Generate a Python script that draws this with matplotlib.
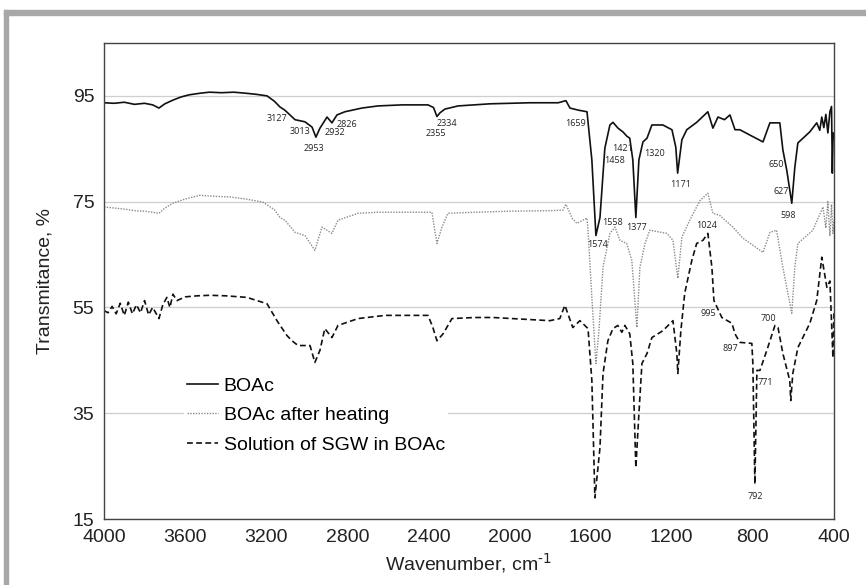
import numpy as np
import matplotlib.pyplot as plt
from matplotlib.patches import Rectangle

plt.rcParams['font.family'] = ['Liberation Sans', 'DejaVu Sans']

# BOAc (solid)
wn_boac = [4000, 3950, 3900, 3850, 3800, 3760, 3729, 3700, 3660, 3620, 3580, 3527, 3480, 3420,
           3360, 3300, 3250, 3196, 3160, 3132, 3108, 3058, 3009, 2974, 2955, 2935, 2900, 2876,
           2851, 2812, 2728, 2649, 2530, 2402, 2375, 2358, 2343, 2319, 2254, 2097, 1900, 1760,
           1722, 1702, 1660, 1618, 1594, 1574, 1554, 1530, 1505, 1490, 1465, 1441, 1422, 1407,
           1392, 1377, 1362, 1342, 1322, 1298, 1244, 1199, 1180, 1171, 1150, 1126, 1077, 1022,
           997, 972, 940, 913, 888, 864, 815, 750, 716, 667, 652, 633, 608, 593, 578, 519, 485,
           470, 460, 450, 440, 430, 420, 412, 408, 404, 400]
t_boac = [93.7, 93.6, 93.8, 93.4, 93.6, 93.3, 92.7, 93.5, 94.2, 94.8, 95.2, 95.5, 95.7, 95.6,
          95.7, 95.5, 95.3, 95.0, 94.0, 92.9, 92.3, 90.5, 90.1, 89.1, 87.2, 88.9, 91.0, 89.9,
          91.4, 92.0, 92.7, 93.1, 93.3, 93.3, 92.8, 91.1, 91.8, 92.5, 93.1, 93.5, 93.7, 93.7,
          94.1, 92.7, 92.3, 92.0, 82.9, 68.6, 72.0, 85.1, 89.5, 90.0, 88.9, 88.2, 87.4, 87.0,
          82.9, 72.0, 82.9, 86.3, 87.0, 89.5, 89.5, 88.6, 85.3, 80.4, 86.7, 88.6, 90.0, 92.0,
          88.9, 91.0, 90.5, 91.4, 88.6, 88.6, 87.6, 86.3, 89.9, 89.9, 84.8, 81.0, 74.7, 81.5, 86.1,
          88.2, 89.9, 88.5, 91.0, 89.0, 91.5, 88.0, 92.0, 93.0, 80.4, 88.0, 87.0]

# BOAc after heating (dotted)
wn_heat = [4000, 3950, 3900, 3850, 3800, 3760, 3729, 3700, 3660, 3600, 3527, 3450, 3380, 3300,
           3216, 3160, 3132, 3108, 3058, 3009, 2960, 2925, 2876, 2846, 2747, 2649, 2383, 2358,
           2333, 2304, 2171, 2000, 1800, 1737, 1722, 1690, 1668, 1618, 1613, 1594, 1574, 1559,
           1539, 1505, 1480, 1456, 1422, 1397, 1372, 1357, 1332, 1308, 1224, 1194, 1170, 1150,
           1111, 1061, 1022, 997, 963, 899, 849, 750, 716, 683, 652, 608, 593, 578, 504, 454,
           440, 430, 420, 412, 405, 400]
t_heat = [74.0, 73.8, 73.6, 73.3, 73.2, 73.0, 72.8, 73.8, 74.7, 75.5, 76.2, 76.0, 75.9, 75.5,
          74.9, 73.5, 72.0, 71.5, 69.2, 68.6, 65.8, 70.2, 69.0, 71.5, 72.8, 73.0, 73.0, 67.1,
          70.2, 72.8, 73.0, 73.2, 73.3, 73.4, 74.5, 71.8, 70.9, 71.9, 69.6, 56.9, 44.4, 50.6,
          62.6, 69.0, 70.2, 67.7, 67.1, 63.9, 51.2, 62.6, 67.1, 69.6, 69.0, 67.7, 60.5, 68.3,
          71.5, 75.2, 76.6, 72.8, 72.4, 70.2, 68.1, 65.4, 69.2, 69.6, 62.6, 53.9, 62.6, 67.1,
          69.6, 74.0, 70.0, 75.0, 68.5, 74.5, 69.0, 71.5]

# Solution of SGW in BOAc (dashed)
wn_sgw = [4000, 3980, 3960, 3940, 3920, 3900, 3880, 3860, 3840, 3820, 3800, 3780, 3760, 3729,
          3710, 3690, 3675, 3660, 3640, 3600, 3540, 3477, 3400, 3295, 3196, 3147, 3098, 3073,
          3043, 2984, 2960, 2935, 2911, 2876, 2846, 2747, 2614, 2402, 2378, 2358, 2328, 2284,
          2171, 2082, 1801, 1752, 1727, 1688, 1653, 1613, 1594, 1579, 1554, 1539, 1515, 1490,
          1466, 1446, 1431, 1407, 1392, 1377, 1362, 1347, 1322, 1298, 1244, 1194, 1175, 1170,
          1155, 1136, 1101, 1077, 1046, 1022, 1002, 992, 953, 903, 888, 864, 805, 800, 790,
          780, 765, 731, 691, 676, 652, 618, 613, 603, 578, 519, 485, 460, 435, 420, 405, 400]
t_sgw = [54.4, 54.0, 55.2, 53.8, 55.8, 53.5, 56.0, 53.8, 55.5, 54.0, 56.3, 53.6, 55.0, 52.9,
         55.5, 56.9, 55.0, 57.5, 56.3, 57.0, 57.2, 57.3, 57.2, 56.9, 55.7, 52.5, 49.7, 48.7,
         47.8, 47.8, 44.6, 46.9, 51.0, 49.3, 51.6, 52.9, 53.5, 53.5, 51.2, 48.7, 50.0, 52.9,
         53.1, 53.1, 52.5, 52.9, 55.4, 51.2, 52.5, 51.0, 41.2, 19.0, 28.5, 42.5, 48.7, 51.0,
         51.6, 50.3, 51.6, 50.0, 44.4, 24.7, 34.9, 44.4, 46.3, 49.3, 50.6, 52.5, 46.3, 42.5,
         50.6, 57.7, 63.9, 67.1, 67.7, 69.0, 62.6, 56.3, 53.1, 52.0, 50.0, 48.4, 48.2, 44.4, 21.6,
         43.1, 43.1, 46.9, 51.6, 51.2, 46.3, 41.2, 37.4, 42.5, 47.4, 52.0, 56.3, 64.5, 58.8, 60.0, 45.5, 53.9]

# peak labels: text, wavenumber, transmittance
peak_txt = ['3127', '3013', '2953', '2932', '2826', '2334', '2355', '1659', '1421', '1458',
            '1320', '1171', '650', '627', '598', '1558', '1377', '1574', '1024', '995', '700',
            '897', '771', '792']
peak_wn = [3147, 3034, 2965, 2861, 2802, 2309, 2363, 1677, 1441, 1480, 1283, 1155, 686, 662,
           627, 1490, 1372, 1564, 1027, 1022, 726, 913, 741, 790]
peak_t = [90.8, 88.2, 85.0, 88.0, 89.5, 89.7, 87.8, 89.7, 85.1, 82.7, 84.2, 78.3, 82.1, 77.0,
          72.3, 71.1, 70.2, 66.9, 70.4, 53.9, 52.9, 47.2, 40.8, 19.2]

fig = plt.figure(figsize=(8.66, 5.85), dpi=100)
ax = fig.add_axes([0.1201, 0.1128, 0.8429, 0.8137])

# grey frame around the picture (top and left)
fig.patches.append(Rectangle((4/866, 0), 4/866, 1 - 10/585, transform=fig.transFigure,
                             color='#a8a8a8', zorder=0))
fig.patches.append(Rectangle((4/866, 1 - 15/585), 1, 5/585, transform=fig.transFigure,
                             color='#a8a8a8', zorder=0))

ax.plot(wn_boac, t_boac, color='#111111', lw=1.2, label='BOAc')
ax.plot(wn_heat, t_heat, color='#8a8a8a', lw=1.0, ls=(0, (1, 1)), label='BOAc after heating')
ax.plot(wn_sgw, t_sgw, color='#111111', lw=1.2, ls=(0, (3.5, 2)), label='Solution of SGW in BOAc')

for s, w, t in zip(peak_txt, peak_wn, peak_t):
    ax.text(w, t, s, fontsize=6.5, ha='center', va='center', color='#222222',
            family=['Open Sans', 'DejaVu Sans'], zorder=4)

ax.set_xlim(4000, 400)
ax.set_ylim(15, 105)
ax.set_xticks([4000, 3600, 3200, 2800, 2400, 2000, 1600, 1200, 800, 400])
ax.set_yticks([15, 35, 55, 75, 95])
ax.yaxis.grid(True, color='#cfcfcf', lw=0.9)
ax.set_axisbelow(True)
ax.tick_params(length=0, labelsize=14, colors='#222222', pad=7)
for sp in ax.spines.values():
    sp.set_color('#444444')
    sp.set_linewidth(1.0)

ax.set_xlabel('Wavenumber, cm$^{\\text{-1}}$', fontsize=14, color='#222222', labelpad=4)
ax.set_ylabel('Transmitance, %', fontsize=14, color='#222222', labelpad=14)

leg = ax.legend(loc='upper left', bbox_to_anchor=(0.096, 0.325), fontsize=14, frameon=True,
                facecolor='white', edgecolor='none', framealpha=1, fancybox=False,
                handlelength=1.6, handletextpad=0.3, labelspacing=0.62, borderpad=0.15)

fig.savefig('out.png', dpi=100)
